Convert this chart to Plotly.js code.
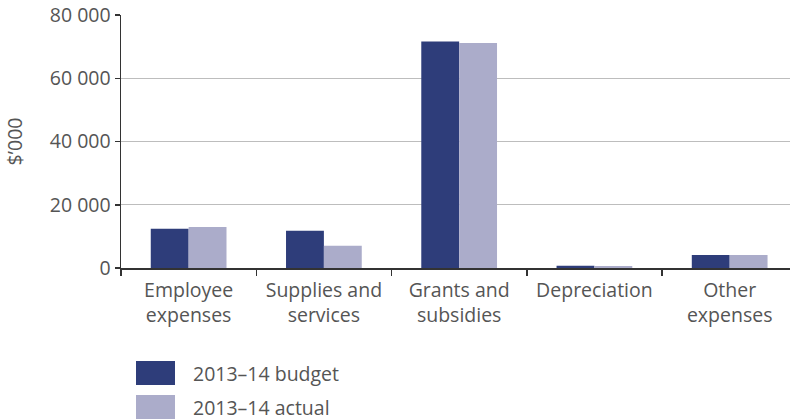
<!DOCTYPE html>
<html>
<head>
<meta charset="utf-8">
<script src="https://cdn.plot.ly/plotly-3.0.1.min.js"></script>
<style>html,body{margin:0;padding:0;overflow:hidden;background:#fff}</style>
</head>
<body>
<div id="chart" style="width:791px;height:420px"></div>
<script>
const categories = ["Employee<br>expenses", "Supplies and<br>services", "Grants and<br>subsidies", "Depreciation", "Other<br>expenses"];
const budget = [12430, 11800, 71650, 700, 4100];
const actual = [12960, 7050, 71150, 600, 4100];
const seriesNames = ["2013\u201314 budget", "2013\u201314 actual"];
const colors = ["#2e3d7a", "#abacca"];
const yTicks = [0, 20000, 40000, 60000, 80000];
const yTickText = ["0", "20 000", "40 000", "60 000", "80 000"];

const FONT = "Open Sans, Noto Sans, sans-serif";
const TXT = "#555555";
const FS = 19.5;

const traces = [budget, actual].map((vals, i) => ({
  type: "bar",
  name: seriesNames[i],
  x: categories,
  y: vals,
  marker: {color: colors[i]},
  showlegend: false,
  hoverinfo: "skip"
}));

// Legend built from series names/colours (paper coords)
const plotL = 121, plotR = 790, plotT = 15, plotB = 268;
const px = v => (v - plotL) / (plotR - plotL);
const py = v => (plotB - v) / (plotB - plotT);
const shapes = [];
const annotations = [];
seriesNames.forEach((n, i) => {
  const top = 361 + i * 34;
  shapes.push({type: "rect", xref: "paper", yref: "paper",
    x0: px(136), x1: px(175), y0: py(top), y1: py(top + 24),
    fillcolor: colors[i], line: {width: 0}});
  annotations.push({xref: "paper", yref: "paper", x: px(191), y: py(top + 12),
    xanchor: "left", yanchor: "middle", text: n, showarrow: false,
    font: {family: FONT, size: FS, color: TXT}});
});

const layout = {
  width: 791, height: 420,
  margin: {l: plotL, r: 791 - plotR, t: plotT, b: 420 - plotB},
  paper_bgcolor: "#fff", plot_bgcolor: "#fff",
  barmode: "group", bargap: 0.44, bargroupgap: 0,
  font: {family: FONT, size: FS, color: TXT},
  xaxis: {
    type: "category",
    range: [-0.5, 4.446],
    showline: true, linecolor: "#333", linewidth: 1.5,
    ticks: "outside", tickson: "boundaries", ticklen: 6, tickcolor: "#333", tickwidth: 1.5,
    ticklabelstandoff: 4,
    showgrid: false, fixedrange: true,
    tickfont: {family: FONT, size: FS, color: TXT}
  },
  yaxis: {
    range: [0, 80000],
    tickvals: yTicks, ticktext: yTickText,
    showline: true, linecolor: "#333", linewidth: 1.5,
    ticks: "outside", ticklen: 5, tickcolor: "#333", tickwidth: 1.5,
    showgrid: true, gridcolor: "#bdbdbd", gridwidth: 1,
    zeroline: false,
    tickfont: {family: FONT, size: FS, color: TXT},
    title: {text: "$\u2019000", font: {family: FONT, size: FS, color: TXT}, standoff: 22}
  },
  shapes: shapes,
  annotations: annotations
};

Plotly.newPlot("chart", traces, layout, {displayModeBar: false, staticPlot: true});
</script>
</body>
</html>
